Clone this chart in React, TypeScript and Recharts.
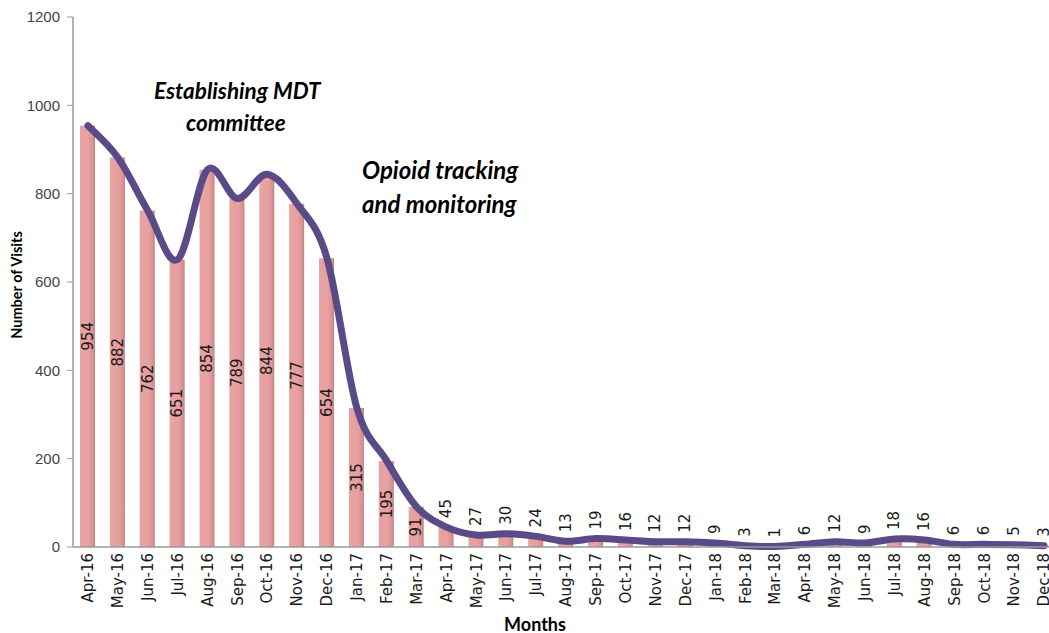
import React from 'react';
import { ComposedChart, Bar, Line, XAxis, YAxis, LabelList } from 'recharts';

const months = [
  'Apr-16', 'May-16', 'Jun-16', 'Jul-16', 'Aug-16', 'Sep-16', 'Oct-16', 'Nov-16', 'Dec-16',
  'Jan-17', 'Feb-17', 'Mar-17', 'Apr-17', 'May-17', 'Jun-17', 'Jul-17', 'Aug-17', 'Sep-17',
  'Oct-17', 'Nov-17', 'Dec-17', 'Jan-18', 'Feb-18', 'Mar-18', 'Apr-18', 'May-18', 'Jun-18',
  'Jul-18', 'Aug-18', 'Sep-18', 'Oct-18', 'Nov-18', 'Dec-18'
];

const visits = [
  954, 882, 762, 651, 854, 789, 844, 777, 654,
  315, 195, 91, 45, 27, 30, 24, 13, 19,
  16, 12, 12, 9, 3, 1, 6, 12, 9,
  18, 16, 6, 6, 5, 3
];

const yTicks = [0, 200, 400, 600, 800, 1000, 1200];

const data = months.map((m, i) => ({ month: m, visits: visits[i] }));

// smooth line through every point, like the spreadsheet's smoothed line
function smoothCurve(context: any) {
  let pts: number[][] = [];
  return {
    areaStart() {},
    areaEnd() {},
    lineStart() {
      pts = [];
    },
    point(x: number, y: number) {
      pts.push([x, y]);
    },
    lineEnd() {
      if (!pts.length) return;
      context.moveTo(pts[0][0], pts[0][1]);
      const t = 1 / 6;
      for (let i = 0; i < pts.length - 1; i++) {
        const p0 = pts[i - 1] || pts[i];
        const p1 = pts[i];
        const p2 = pts[i + 1];
        const p3 = pts[i + 2] || p2;
        context.bezierCurveTo(
          p1[0] + (p2[0] - p0[0]) * t,
          p1[1] + (p2[1] - p0[1]) * t,
          p2[0] - (p3[0] - p1[0]) * t,
          p2[1] - (p3[1] - p1[1]) * t,
          p2[0],
          p2[1]
        );
      }
    }
  };
}

const MonthTick = ({ x, y, payload }: any) => (
  <text
    x={x}
    y={y}
    transform={`rotate(-90, ${x}, ${y})`}
    textAnchor="end"
    dy="0.35em"
    fontSize={15}
    fontFamily="'DejaVu Sans', sans-serif"
    fill="#1a1a1a"
  >
    {payload.value}
  </text>
);

const ValueLabel = ({ x, y, width, height, value }: any) => {
  const cx = x + width / 2;
  const inside = value > 60;
  const cy = inside ? y + height / 2 : y - 9;
  return (
    <text
      x={cx}
      y={cy}
      transform={`rotate(-90, ${cx}, ${cy})`}
      textAnchor={inside ? 'middle' : 'start'}
      dy="0.35em"
      fontSize={15}
      fontFamily="'DejaVu Sans', sans-serif"
      fill="#1a1a1a"
    >
      {value}
    </text>
  );
};

const note = {
  position: 'absolute' as const,
  fontFamily: 'Lato, sans-serif',
  fontWeight: 700,
  fontStyle: 'italic',
  color: '#000',
  lineHeight: 1,
  whiteSpace: 'nowrap' as const
};

export default function App() {
  return (
    <div
      style={{
        position: 'absolute',
        left: 0,
        top: 0,
        width: 1049,
        height: 633,
        overflow: 'hidden',
        background: '#fff'
      }}
    >
      <ComposedChart
        width={1062}
        height={633}
        data={data}
        margin={{ top: 17, right: 3, left: 0, bottom: 0 }}
        barCategoryGap="25%"
      >
        <defs>
          <linearGradient id="barFill" x1="0" y1="0" x2="1" y2="0">
            <stop offset="0%" stopColor="#e7a3a3" />
            <stop offset="60%" stopColor="#e89f9f" />
            <stop offset="88%" stopColor="#d99090" />
            <stop offset="100%" stopColor="#b58080" />
          </linearGradient>
        </defs>
        <XAxis
          dataKey="month"
          height={86}
          interval={0}
          tick={<MonthTick />}
          tickLine={false}
          tickSize={4}
          axisLine={{ stroke: '#9a9a9a', strokeWidth: 1.5 }}
        />
        <YAxis
          width={73}
          domain={[0, 1200]}
          ticks={yTicks}
          tickSize={6}
          tickMargin={7}
          tick={{ fontSize: 15, fill: '#444', fontFamily: "'Liberation Sans', sans-serif" }}
          tickLine={{ stroke: '#9a9a9a' }}
          axisLine={{ stroke: '#9a9a9a', strokeWidth: 1.5 }}
        />
        <Bar dataKey="visits" fill="url(#barFill)" barSize={15} isAnimationActive={false}>
          <LabelList dataKey="visits" content={<ValueLabel />} />
        </Bar>
        <Line
          dataKey="visits"
          type={smoothCurve as any}
          stroke="#5b4a88"
          strokeWidth={7}
          strokeLinecap="round"
          dot={false}
          activeDot={false}
          isAnimationActive={false}
        />
      </ComposedChart>

      <div style={{ ...note, fontSize: 22.5, left: 154, top: 80 }}>Establishing MDT</div>
      <div style={{ ...note, fontSize: 22.5, left: 186, top: 112 }}>committee</div>
      <div style={{ ...note, fontSize: 24, left: 362, top: 158 }}>Opioid tracking</div>
      <div style={{ ...note, fontSize: 24, left: 362, top: 192 }}>and monitoring</div>

      <div
        style={{
          position: 'absolute',
          left: 17,
          top: 285,
          transform: 'translate(-50%, -50%) rotate(-90deg)',
          fontFamily: 'Lato, sans-serif',
          fontWeight: 700,
          fontSize: 14.5,
          whiteSpace: 'nowrap',
          lineHeight: 1
        }}
      >
        Number of Visits
      </div>
      <div
        style={{
          position: 'absolute',
          left: 535,
          top: 624,
          transform: 'translate(-50%, -50%)',
          fontFamily: 'Lato, sans-serif',
          fontWeight: 700,
          fontSize: 18,
          whiteSpace: 'nowrap',
          lineHeight: 1
        }}
      >
        Months
      </div>
    </div>
  );
}
